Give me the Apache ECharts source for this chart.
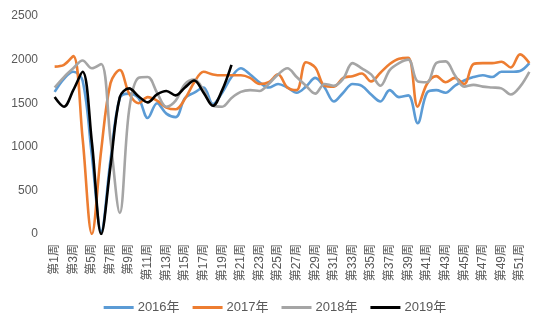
<!DOCTYPE html>
<html>
<head>
<meta charset="utf-8">
<script src="https://cdn.jsdelivr.net/npm/echarts@6/dist/echarts.min.js"></script>
<style>html,body{margin:0;padding:0;background:#fff;}#c{width:550px;height:330px;}</style>
</head>
<body>
<div id="c"></div>
<script>
var weeks = [];
for (var i = 1; i <= 52; i++) weeks.push('第' + i + '周');
var yTicks = [0, 500, 1000, 1500, 2000, 2500];
var legendNames = ['2016年', '2017年', '2018年', '2019年'];
var s2016 = [1630,1780,1860,1760,900,30,850,1560,1610,1560,
             1330,1500,1380,1340,1560,1620,1680,1490,1620,1800,
             1900,1830,1740,1680,1720,1680,1620,1690,1790,1680,
             1520,1620,1720,1700,1600,1520,1650,1570,1590,1270,
             1620,1650,1620,1700,1760,1800,1820,1800,1860,1860,1870,1960];
var s2017 = [1920,1940,2040,1100,0,960,1730,1880,1610,1500,
             1570,1530,1450,1430,1550,1740,1860,1830,1820,1820,
             1820,1790,1720,1740,1830,1680,1650,1970,1910,1700,
             1690,1790,1810,1840,1750,1850,1950,2010,2020,1460,
             1720,1810,1740,1790,1720,1950,1960,1960,1975,1910,2060,1960];
var s2018 = [1680,1800,1900,1990,1900,1950,1080,240,1420,1790,
             1800,1620,1460,1530,1720,1770,1650,1470,1460,1560,
             1630,1650,1640,1720,1830,1900,1800,1700,1610,1720,
             1700,1780,1960,1900,1830,1700,1880,1960,2000,1750,
             1740,1960,1980,1820,1690,1710,1690,1680,1670,1600,1690,1860];
var s2019 = [1570,1460,1650,1860,1050,0,780,1570,1670,1580,
             1510,1600,1640,1590,1680,1760,1620,1470,1650,1940];

var colors = ['#5B9BD5', '#ED7D31', '#A5A5A5', '#000000'];
var dataSets = [s2016, s2017, s2018, s2019];
var txt = '#595959';
var font = '"Liberation Sans", "Noto Sans CJK SC", sans-serif';

var chart = echarts.init(document.getElementById('c'), null, {renderer: 'canvas'});
chart.setOption({
  animation: false,
  color: colors,
  textStyle: {fontFamily: font},
  grid: {left: 50, right: 16, top: 16, bottom: 96, containLabel: false},
  legend: {
    bottom: 11,
    left: 'center',
    itemWidth: 30,
    itemHeight: 3,
    itemGap: 13,
    icon: 'rect',
    textStyle: {color: txt, fontSize: 13, fontFamily: font, padding: [0, 0, 0, -1]},
    data: legendNames
  },
  xAxis: {
    type: 'category',
    data: weeks,
    boundaryGap: true,
    axisLine: {show: false},
    axisTick: {show: false},
    axisLabel: {
      interval: 1,
      rotate: 90,
      color: txt,
      fontSize: 12,
      margin: 10,
      fontFamily: font
    }
  },
  yAxis: {
    type: 'value',
    min: yTicks[0],
    max: yTicks[yTicks.length - 1],
    interval: 500,
    axisLine: {show: false},
    axisTick: {show: false},
    splitLine: {show: false},
    axisLabel: {color: txt, fontSize: 12, margin: 12, fontFamily: font,
      formatter: function (v) { return String(v); }}
  },
  series: dataSets.map(function (d, k) {
    return {
      name: legendNames[k],
      type: 'line',
      data: d,
      smooth: 0.35,
      showSymbol: false,
      symbol: 'none',
      lineStyle: {width: 2.6, color: colors[k]},
      itemStyle: {color: colors[k]},
      z: 2 + k
    };
  })
});
</script>
</body>
</html>
